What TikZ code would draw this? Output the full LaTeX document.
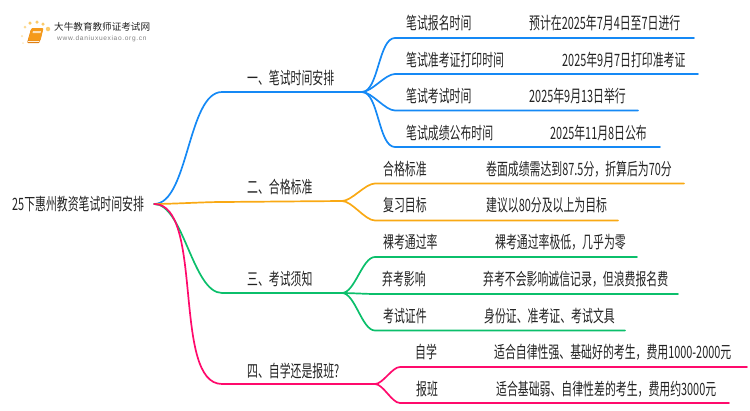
\documentclass[tikz,border=0pt]{standalone}
\usepackage{fontspec}
\newfontfamily\cjkNarrow[FakeStretch=0.64]{Noto Sans CJK SC}
\newfontfamily\cjkLogo{Noto Sans CJK SC}
\newfontfamily\urlFont[LetterSpace=10]{Liberation Sans}
\newcommand{\wideComma}{\char"FF0C\relax}
\definecolor{inkDark}{HTML}{222222}
\definecolor{lineBlue}{HTML}{1589F5}
\definecolor{lineOrange}{HTML}{F9A914}
\definecolor{lineGreen}{HTML}{0BBF6B}
\definecolor{linePink}{HTML}{FF0A6C}
\definecolor{bookOrange}{HTML}{F59A1B}
\definecolor{bookEdge}{HTML}{E07F12}
\definecolor{dotYellow}{HTML}{FBCB6B}
\usetikzlibrary{positioning}
\tikzset{%
  rootText/.style={%
    anchor=west,
    inner xsep=10pt,
    inner ysep=0pt,
    text=inkDark,
    font=\cjkNarrow\fontsize{17}{18}\selectfont
  },
  labelText/.style={%
    anchor=west,
    inner sep=0pt,
    text=inkDark,
    font=\cjkNarrow\fontsize{17}{18}\selectfont
  },
  curveLink/.style={%
    out=0,
    in=180,
    looseness=0.67
  },
  branchLine/.style={%
    line width=1.7pt,
    line cap=round
  },
  logoDot/.style={%
    circle,
    fill=dotYellow,
    inner sep=0pt,
    minimum size=3.5pt
  }
}
\begin{document}
\begin{tikzpicture}[x=1pt,y=-1pt]
  \useasboundingbox (0,0) rectangle (750,410);

  % logo
  \node[logoDot, fill=dotYellow!50, minimum size=2.5pt] (dotA) at (22,36) {};
  \node[logoDot, fill=dotYellow!40, minimum size=2pt] (dotB) at (23,43) {};
  \node[logoDot, fill=dotYellow!70, minimum size=3pt] (dotC) at (25,27) {};
  \node[logoDot] (dotD) at (30,23) {};
  \node[logoDot] (dotE) at (37,22) {};
  \node[logoDot] (dotF) at (43,24) {};
  \node[logoDot, minimum size=4.5pt] (dotG) at (48,29) {};
  \fill[bookEdge, rounded corners=1pt] (31,29) -- (43,29) -- (39.5,43) -- (27,43) -- cycle;
  \fill[bookOrange, rounded corners=1pt] (31.5,28) -- (43.5,28) -- (40.5,40.5) -- (28,40.5) -- cycle;
  \fill[white!70!bookOrange] (33,31) -- (41,31) -- (40.5,33) -- (32.5,33) -- cycle;
  \fill[white!85!bookOrange] (28,41) -- (39.5,41) -- (39.3,41.8) -- (27.8,41.8) -- cycle;
  \node[anchor=west, inner sep=0pt, text=inkDark, font=\cjkLogo\fontsize{9.6}{11}\selectfont] (logoTitle) at (54,27) {大牛教育教师证考试网};
  \node[anchor=west, inner sep=0pt, text=black!50, font=\urlFont\fontsize{6.6}{8}\selectfont] (logoUrl) at (57,39) {www.daniuxuexiao.org.cn};

  \node[rootText] (root) at (2,204) {25下惠州教资笔试时间安排};

  % branches
  \coordinate (startA) at (222,92);
  \coordinate (forkA) at (362,92);
  \coordinate (startB) at (222,202);
  \coordinate (forkB) at (342,201);
  \coordinate (startC) at (222,293);
  \coordinate (forkC) at (342,293);
  \coordinate (startD) at (222,384);
  \coordinate (forkD) at (375,384);

  \draw[branchLine, lineBlue] (root.east) to[curveLink] (startA) -- (forkA);
  \draw[branchLine, lineOrange] (root.east) to[curveLink] (startB) -- (forkB);
  \draw[branchLine, lineGreen] (root.east) to[curveLink] (startC) -- (forkC);
  \draw[branchLine, linePink] (root.east) to[curveLink] (startD) -- (forkD);

  \node[labelText] (titleA) at (247,78) {一、笔试时间安排};
  \node[labelText] (titleB) at (247,187) {二、合格标准};
  \node[labelText] (titleC) at (247,279) {三、考试须知};
  \node[labelText] (titleD) at (247,371) {四、自学还是报班?};

  % first group
  \coordinate (a1s) at (395,38);
  \coordinate (a1e) at (694,38);
  \coordinate (a2s) at (395,74);
  \coordinate (a2e) at (698,74);
  \coordinate (a3s) at (395,110.5);
  \coordinate (a3e) at (638,110.5);
  \coordinate (a4s) at (395,147);
  \coordinate (a4e) at (660,147);
  \draw[branchLine, lineBlue] (forkA) to[curveLink] (a1s) -- (a1e);
  \draw[branchLine, lineBlue] (forkA) to[curveLink] (a2s) -- (a2e);
  \draw[branchLine, lineBlue] (forkA) to[curveLink] (a3s) -- (a3e);
  \draw[branchLine, lineBlue] (forkA) to[curveLink] (a4s) -- (a4e);
  \node[labelText] (a1) at (406,23) {笔试报名时间};
  \node[labelText] (a1v) at (529,23) {预计在2025年7月4日至7日进行};
  \node[labelText] (a2) at (406,60) {笔试准考证打印时间};
  \node[labelText] (a2v) at (562,60) {2025年9月7日打印准考证};
  \node[labelText] (a3) at (406,96) {笔试考试时间};
  \node[labelText] (a3v) at (529,96) {2025年9月13日举行};
  \node[labelText] (a4) at (406,133) {笔试成绩公布时间};
  \node[labelText] (a4v) at (550,133) {2025年11月8日公布};

  % second group
  \coordinate (b1s) at (375,183.5);
  \coordinate (b1e) at (684,183.5);
  \coordinate (b2s) at (375,220.5);
  \coordinate (b2e) at (618,220.5);
  \draw[branchLine, lineOrange] (forkB) to[curveLink] (b1s) -- (b1e);
  \draw[branchLine, lineOrange] (forkB) to[curveLink] (b2s) -- (b2e);
  \node[labelText] (b1) at (383,169) {合格标准};
  \node[labelText] (b1v) at (486,169) {卷面成绩需达到87.5分\wideComma 折算后为70分};
  \node[labelText] (b2) at (383,205) {复习目标};
  \node[labelText] (b2v) at (486,205) {建议以80分及以上为目标};

  % third group
  \coordinate (c1s) at (375,257);
  \coordinate (c1e) at (637,257);
  \coordinate (c2s) at (375,294);
  \coordinate (c2e) at (678,294);
  \coordinate (c3s) at (375,330.5);
  \coordinate (c3e) at (625,330.5);
  \draw[branchLine, lineGreen] (forkC) to[curveLink] (c1s) -- (c1e);
  \draw[branchLine, lineGreen] (forkC) to[curveLink] (c2s) -- (c2e);
  \draw[branchLine, lineGreen] (forkC) to[curveLink] (c3s) -- (c3e);
  \node[labelText] (c1) at (383,242) {裸考通过率};
  \node[labelText] (c1v) at (495,242) {裸考通过率极低\wideComma 几乎为零};
  \node[labelText] (c2) at (382,279) {弃考影响};
  \node[labelText] (c2v) at (483,279) {弃考不会影响诚信记录\wideComma 但浪费报名费};
  \node[labelText] (c3) at (383,316) {考试证件};
  \node[labelText] (c3v) at (484,316) {身份证、准考证、考试文具};

  % fourth group
  \coordinate (d1s) at (400,367);
  \coordinate (d1e) at (747,367);
  \coordinate (d2s) at (400,403);
  \coordinate (d2e) at (729,403);
  \draw[branchLine, linePink] (forkD) to[curveLink] (d1s) -- (d1e);
  \draw[branchLine, linePink] (forkD) to[curveLink] (d2s) -- (d2e);
  \node[labelText] (d1) at (415,352) {自学};
  \node[labelText] (d1v) at (494,352) {适合自律性强、基础好的考生\wideComma 费用1000-2000元};
  \node[labelText] (d2) at (416,389) {报班};
  \node[labelText] (d2v) at (496,389) {适合基础弱、自律性差的考生\wideComma 费用约3000元};
\end{tikzpicture}
\end{document}
